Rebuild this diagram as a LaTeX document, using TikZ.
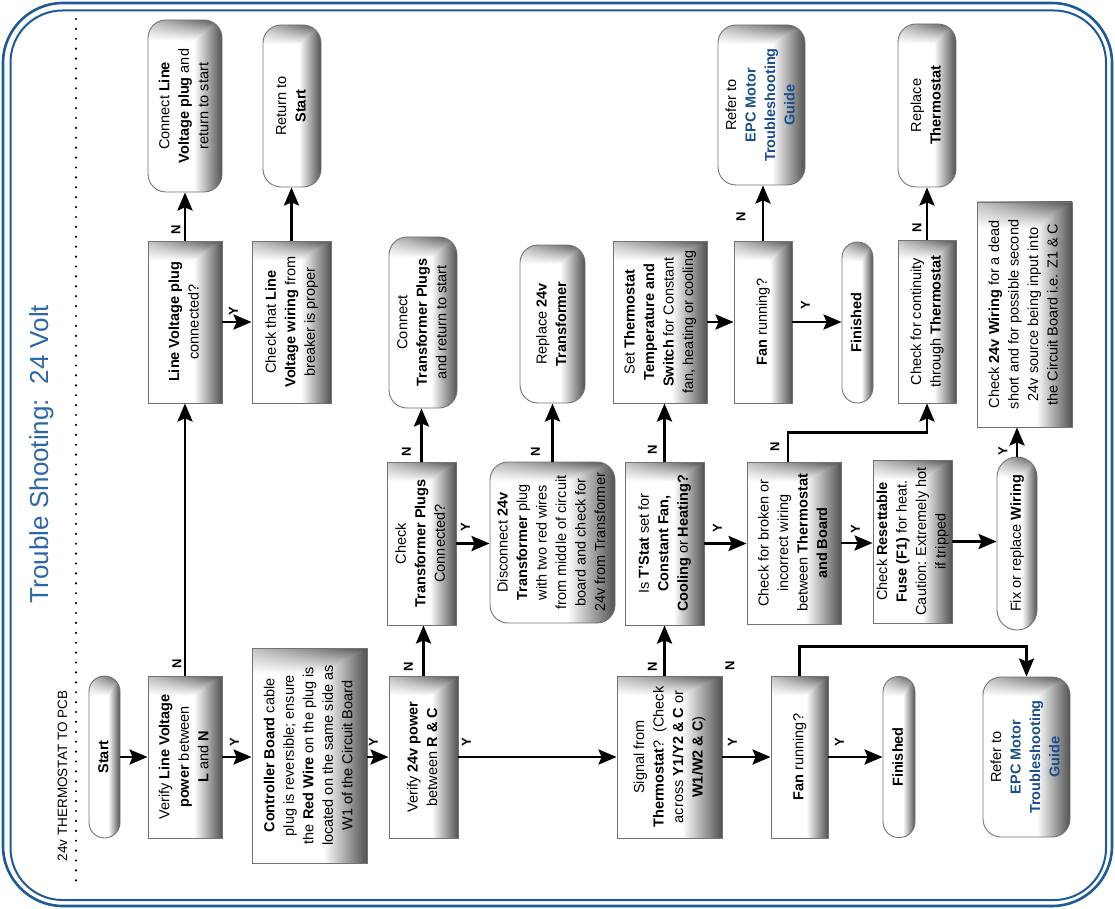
\documentclass[tikz,border=0pt]{standalone}
\usepackage{fontspec}
\setmainfont{Liberation Sans}
\usepackage{graphicx}
\usetikzlibrary{arrows.meta}
\definecolor{rimblue}{HTML}{1D5A96}
\definecolor{headblue}{HTML}{2C67A8}
\definecolor{epcblue}{HTML}{1B4F8C}
% grey bevel: dark along the right side and the top
\pgfdeclarefunctionalshading{bevel}{\pgfpoint{-50bp}{-50bp}}{\pgfpoint{50bp}{50bp}}{}{
	19 sub 6 div dup 0 lt {pop 0} if dup 1 gt {pop 1} if
	1 index 25 add 50 div dup 0 lt {pop 0} if dup 1 gt {pop 1} if
	0.65 mul 0.35 add mul
	exch 6 sub 19 div dup 0 lt {pop 0} if dup 1 gt {pop 1} if
	2 copy lt {exch} if pop
	0.68 mul 1 exch sub dup dup
}
\def\vt#1{\rotatebox{90}{\begin{tabular}{@{}c@{}}#1\end{tabular}}}
\def\epc{\textcolor{epcblue}{\bfseries EPC Motor}\\\textcolor{epcblue}{\bfseries Troubleshooting}\\\textcolor{epcblue}{\bfseries Guide}}

\begin{document}
\begin{tikzpicture}[x=1pt, y=-1pt,
	box/.style={draw=black!55, line width=0.9pt, shade, shading=bevel, inner sep=0pt,
		font=\fontsize{14.5}{19.5}\selectfont},
	rbox/.style={box, rounded corners=18pt},
	pill/.style={box, rounded corners=15.5pt},
	arr/.style={line width=2.8pt, -{Stealth[length=18pt, width=15pt, inset=3pt]}},
	lbl/.style={inner sep=0pt, font=\bfseries\fontsize{13}{13}\selectfont}]
			%%%%% START %%%%%
			\useasboundingbox (0,0) rectangle (1115,909);
			\draw[rimblue, line width=2.6pt, rounded corners=60pt] (3,3) rectangle (1112,906);
			\draw[rimblue, line width=2pt, rounded corners=52pt] (10.5,10.5) rectangle (1106,900);
			\draw[line width=2.4pt, line cap=round, dash pattern=on 0pt off 9.9pt] (76,19) -- (76,886);
			
			\node[rotate=90, anchor=base, text=headblue, font=\fontsize{26}{26}\selectfont] (title) at (48,454) {Trouble Shooting:\ \ 24 Volt};
			\node[rotate=90, anchor=base, font=\fontsize{13.5}{13.5}\selectfont] (sub) at (67,776) {24v THERMOSTAT TO PCB};
			
			% bottom row
			\node[pill, minimum width=31pt, minimum height=162pt] (start) at (104.5,757) {\vt{\textbf{Start}}};
			\node[box, minimum width=74pt, minimum height=162pt] (vlv) at (185,757) {\vt{Verify \textbf{Line Voltage}\\\textbf{power} between\\\textbf{L} and \textbf{N}}};
			\node[box, minimum width=115pt, minimum height=215pt] (ctrl) at (309.5,755.5) {\vt{\textbf{Controller Board} cable\\plug is reversible; ensure\\the \textbf{Red Wire} on the plug is\\located on the same side as\\W1 of the Circuit Board}};
			\node[box, minimum width=69pt, minimum height=162pt] (v24) at (423.5,757) {\vt{Verify \textbf{24v power}\\between \textbf{R \& C}}};
			\node[box, minimum width=105pt, minimum height=162pt] (sig) at (669.5,757) {\vt{Signal from\\\textbf{Thermostat}?\ \ (Check\\across \textbf{Y1/Y2 \& C} or\\\textbf{W1/W2 \& C})}};
			\node[box, minimum width=57pt, minimum height=162pt] (fanB) at (799.5,757) {\vt{\textbf{Fan} running?}};
			\node[pill, minimum width=32pt, minimum height=161pt] (finB) at (899,757) {\vt{\textbf{Finished}}};
			\node[rbox, minimum width=87pt, minimum height=160pt] (eprB) at (1026.5,757) {\vt{Refer to\\\epc}};
			
			% middle row
			\node[box, minimum width=69pt, minimum height=163pt] (tpchk) at (421.5,543.5) {\vt{Check\\\textbf{Transformer Plugs}\\Connected?}};
			\node[rbox, minimum width=125pt, minimum height=161pt] (disc) at (552.5,542.5) {\vt{Disconnect \textbf{24v}\\\textbf{Transformer} plug\\with two red wires\\from middle of circuit\\board and check for\\24v from Transformer}};
			\node[box, minimum width=79pt, minimum height=163pt] (tstat) at (664.5,543.5) {\vt{Is \textbf{T'Stat} set for\\\textbf{Constant Fan,}\\\textbf{Cooling} or \textbf{Heating?}}};
			\node[box, minimum width=94pt, minimum height=162pt] (wirechk) at (794,543) {\vt{Check for broken or\\incorrect wiring\\between \textbf{Thermostat}\\\textbf{and Board}}};
			\node[box, minimum width=79pt, minimum height=163pt] (fuse) at (912.5,541.5) {\vt{Check \textbf{Resettable}\\\textbf{Fuse (F1)} for heat.\\Caution: Extremely hot\\if tripped}};
			\node[pill, minimum width=40pt, minimum height=173pt, rounded corners=20pt] (fix) at (1017,543.5) {\vt{Fix or replace \textbf{Wiring}}};
			
			% upper rows
			\node[box, minimum width=74pt, minimum height=162pt] (lvok) at (185,322) {\vt{\textbf{Line Voltage plug}\\connected?}};
			\node[rbox, minimum width=74pt, minimum height=172pt] (lvcon) at (185,106) {\vt{Connect \textbf{Line}\\\textbf{Voltage plug} and\\return to start}};
			\node[box, minimum width=79pt, minimum height=162pt] (lvwire) at (291.5,322) {\vt{Check that \textbf{Line}\\\textbf{Voltage wiring} from\\breaker is proper}};
			\node[rbox, minimum width=58pt, minimum height=162pt] (ret) at (292,106) {\vt{Return to\\\textbf{Start}}};
			\node[rbox, minimum width=68pt, minimum height=171pt] (tpcon) at (423,322.5) {\vt{Connect\\\textbf{Transformer Plugs}\\and return to start}};
			\node[rbox, minimum width=65pt, minimum height=158pt] (rep24) at (552.5,324) {\vt{Replace \textbf{24v}\\\textbf{Transformer}}};
			\node[box, minimum width=94pt, minimum height=162pt] (setts) at (660,322) {\vt{Set \textbf{Thermostat}\\\textbf{Temperature and}\\\textbf{Switch} for Constant\\fan, heating or cooling}};
			\node[box, minimum width=58pt, minimum height=162pt] (fanT) at (763,322) {\vt{\textbf{Fan} running?}};
			\node[pill, minimum width=31pt, minimum height=161pt] (finT) at (857.5,322.5) {\vt{\textbf{Finished}}};
			\node[rbox, minimum width=87pt, minimum height=160pt] (eprT) at (761.5,105) {\vt{Refer to\\\epc}};
			\node[box, minimum width=58pt, minimum height=163pt] (cont) at (927,321.5) {\vt{Check for continuity\\through \textbf{Thermostat}}};
			\node[rbox, minimum width=58pt, minimum height=163pt] (repts) at (927,105.5) {\vt{Replace\\\textbf{Thermostat}}};
			\node[box, minimum width=95pt, minimum height=225pt] (dead) at (1024.5,314.5) {\vt{Check \textbf{24v Wiring} for a dead\\short and for possible second\\24v source being input into\\the Circuit Board i.e. Z1 \& C}};
			
			% yes arrows
			\draw[arr] (start.east) -- (vlv.west);
			\draw[arr] (vlv.east) -- node[lbl, at start, xshift=12pt, yshift=15pt, rotate=90] {Y} (ctrl.west |- vlv.east);
			\draw[arr] (v24.west -| ctrl.east) -- node[lbl, at start, xshift=6pt, yshift=15pt, rotate=90] {Y} (v24.west);
			\draw[arr] (v24.east) -- node[lbl, at start, xshift=8pt, yshift=15pt, rotate=90] {Y} (sig.west);
			\draw[arr] (sig.east) -- node[lbl, at start, xshift=10pt, yshift=15pt, rotate=90] {Y} (fanB.west);
			\draw[arr] (fanB.east) -- node[lbl, at start, xshift=11pt, yshift=15pt, rotate=90] {Y} (finB.west);
			\draw[arr] (lvok.east) -- node[lbl, at start, xshift=11pt, yshift=11pt, rotate=90] {Y} (lvwire.west |- lvok.east);
			\draw[arr] (tpchk.east) -- node[lbl, at start, xshift=9pt, yshift=16pt, rotate=90] {Y} (disc.west |- tpchk.east);
			\draw[arr] (tstat.east) -- node[lbl, at start, xshift=13pt, yshift=15pt, rotate=90] {Y} (wirechk.west |- tstat.east);
			\draw[arr] (wirechk.east) -- node[lbl, at start, xshift=14pt, yshift=14pt, rotate=90] {Y} (fuse.west |- wirechk.east);
			\draw[arr] (fuse.east) -- (fix.west |- fuse.east);
			\draw[arr] (setts.east) -- (fanT.west);
			\draw[arr] (fanT.east) -- node[lbl, at start, xshift=13pt, yshift=17pt, rotate=90] {Y} (finT.west |- fanT.east);
			\draw[arr] (fix.north) -- node[lbl, at start, xshift=-14pt, yshift=5pt, rotate=90] {Y} (fix.north |- dead.south);
			
			% no arrows
			\draw[arr] (vlv.north) -- node[lbl, at start, xshift=-8pt, yshift=12pt, rotate=90] {N} (lvok.south);
			\draw[arr] (lvok.north) -- node[lbl, at start, xshift=-9pt, yshift=11pt, rotate=90] {N} (lvcon.south);
			\draw[arr] (lvwire.north) -- (lvwire.north |- ret.south);
			\draw[arr] (v24.north) -- node[lbl, at start, xshift=-15pt, yshift=9pt, rotate=90] {N} (v24.north |- tpchk.south);
			\draw[arr] (tpchk.north) -- node[lbl, at start, xshift=-15pt, yshift=10pt, rotate=90] {N} (tpchk.north |- tpcon.south);
			\draw[arr] (disc.north) -- node[lbl, at start, xshift=-17pt, yshift=10pt, rotate=90] {N} (disc.north |- rep24.south);
			\draw[arr] (tstat.south |- sig.north) -- node[lbl, at start, xshift=-12pt, yshift=9pt, rotate=90] {N} (tstat.south);
			\draw[arr] (tstat.north) -- node[lbl, at start, xshift=-12pt, yshift=12pt, rotate=90] {N} (tstat.north |- setts.south);
			\draw[arr] (fanT.north) -- node[lbl, at start, xshift=-22pt, yshift=24pt, rotate=90] {N} (fanT.north |- eprT.south);
			\draw[arr] (cont.north) -- node[lbl, at start, xshift=-10pt, yshift=12pt, rotate=90] {N} (repts.south);
			\draw[arr] ([xshift=-6pt]wirechk.north) -- node[lbl, at start, xshift=-13pt, yshift=15pt, rotate=90] {N} ++(0,-29) -| (cont.south);
			\draw[arr] (fanB.north) -- ++(0,-29) -| (eprB.north);
			\node[lbl, rotate=90] (nfan) at (730,666) {N};
			%%%%% END %%%%%
\end{tikzpicture}
\end{document}
